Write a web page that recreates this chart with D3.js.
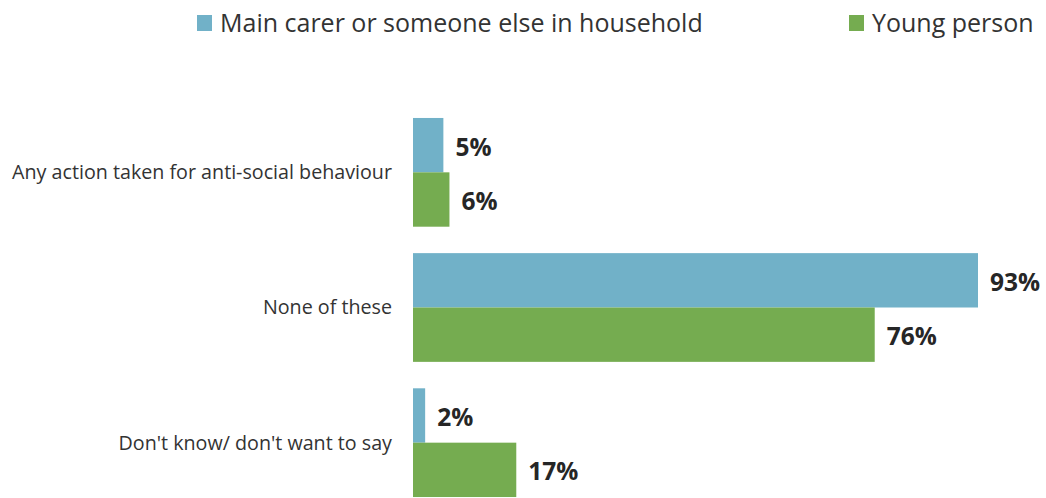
<!DOCTYPE html>
<html>
<head>
<meta charset="utf-8">
<script src="https://cdn.jsdelivr.net/npm/d3@7"></script>
<style>
  html, body { margin: 0; padding: 0; background: #fff; }
  svg { display: block; font-family: "Open Sans", "Noto Sans", sans-serif; }
</style>
</head>
<body>
<svg id="chart" width="1046" height="498"></svg>
<script>
// Survey responses, percent of respondents
const categories = [
  "Any action taken for anti-social behaviour",
  "None of these",
  "Don't know/ don't want to say"
];
const seriesNames = ["Main carer or someone else in household", "Young person"];
const mainCarer = [5, 93, 2];
const youngPerson = [6, 76, 17];
const colors = ["#71B1C8", "#75AC50"];

const rows = categories.map((c, i) => ({ category: c, values: [mainCarer[i], youngPerson[i]] }));

const svg = d3.select("#chart");
const x0 = 413;

const x = d3.scaleLinear().domain([0, 93]).range([x0, 978]);
const y = d3.scaleBand()
  .domain(categories)
  .range([104.75, 510.25])
  .paddingInner(0.1956)
  .paddingOuter(0.0978);
const ySub = d3.scaleBand()
  .domain([0, 1])
  .range([0, y.bandwidth()]);

// Category labels
svg.append("g")
  .selectAll("text")
  .data(categories)
  .join("text")
  .attr("x", 392)
  .attr("y", d => y(d) + y.bandwidth() / 2)
  .attr("dy", "0.35em")
  .attr("text-anchor", "end")
  .attr("font-size", 19.7)
  .attr("fill", "#333")
  .text(d => d);

// Bars and value labels
const groups = svg.append("g")
  .selectAll("g")
  .data(rows)
  .join("g")
  .attr("transform", d => `translate(0,${y(d.category)})`);

groups.selectAll("rect")
  .data(d => d.values)
  .join("rect")
  .attr("x", x0)
  .attr("y", (d, i) => ySub(i))
  .attr("width", d => x(d) - x0)
  .attr("height", ySub.bandwidth())
  .attr("fill", (d, i) => colors[i]);

groups.selectAll("text")
  .data(d => d.values)
  .join("text")
  .attr("x", d => x(d) + 12)
  .attr("y", (d, i) => ySub(i) + ySub.bandwidth() / 2 + 2)
  .attr("dy", "0.35em")
  .attr("font-size", 24.5)
  .attr("font-weight", "bold")
  .attr("fill", "#262626")
  .text(d => d + "%");

// Legend
const legendX = [197, 849];
const legend = svg.append("g")
  .selectAll("g")
  .data(seriesNames)
  .join("g")
  .attr("transform", (d, i) => `translate(${legendX[i]},15)`);

legend.append("rect")
  .attr("width", 15)
  .attr("height", 16)
  .attr("fill", (d, i) => colors[i]);

legend.append("text")
  .attr("x", 23)
  .attr("y", 8)
  .attr("dy", "0.35em")
  .attr("font-size", 25)
  .attr("fill", "#333")
  .text(d => d);
</script>
</body>
</html>
